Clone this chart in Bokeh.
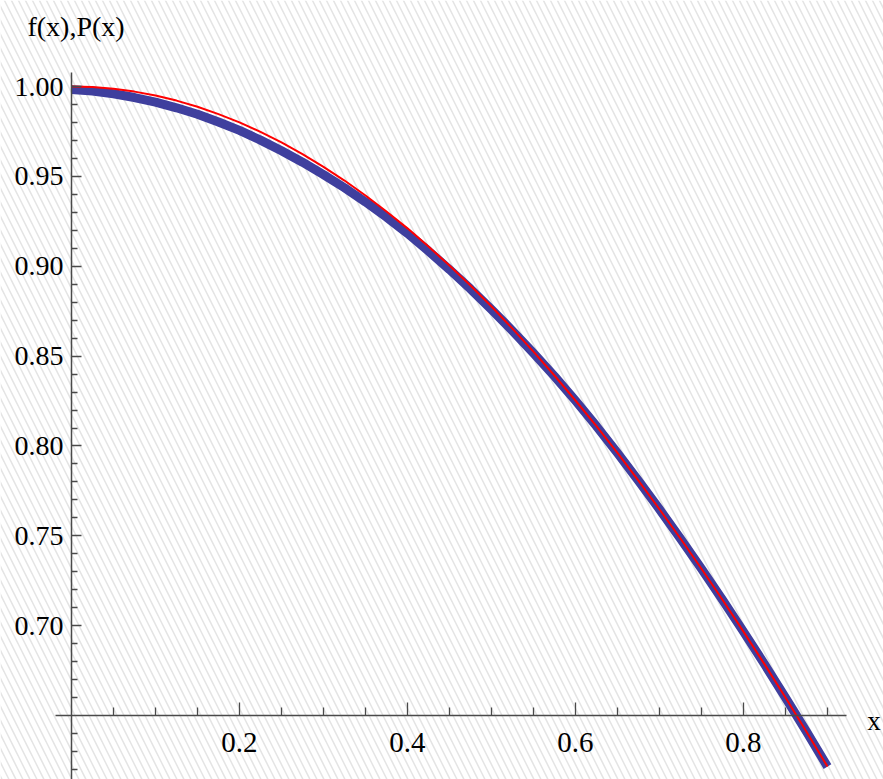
from bokeh.plotting import figure
from bokeh.models import (Range1d, FixedTicker, BoxAnnotation, Label,
                          ColumnDataSource, NumeralTickFormatter)
from bokeh.embed import file_html
from bokeh.resources import INLINE

# values
x_vals = [0.000, 0.025, 0.050, 0.075, 0.100, 0.125, 0.150, 0.175, 0.200, 0.225,
          0.250, 0.275, 0.300, 0.325, 0.350, 0.375, 0.400, 0.425, 0.450, 0.475,
          0.500, 0.525, 0.550, 0.575, 0.600, 0.625, 0.650, 0.675, 0.700, 0.725,
          0.750, 0.775, 0.800, 0.825, 0.850, 0.875, 0.900]
f_vals = [1.0000, 0.9997, 0.9988, 0.9972, 0.9950, 0.9922, 0.9888, 0.9847, 0.9801, 0.9748,
          0.9689, 0.9624, 0.9553, 0.9477, 0.9394, 0.9305, 0.9211, 0.9110, 0.9004, 0.8893,
          0.8776, 0.8653, 0.8525, 0.8392, 0.8253, 0.8110, 0.7961, 0.7807, 0.7648, 0.7485,
          0.7317, 0.7144, 0.6967, 0.6786, 0.6600, 0.6410, 0.6216]
p_vals = [0.9983, 0.9975, 0.9960, 0.9939, 0.9913, 0.9882, 0.9846, 0.9803, 0.9756, 0.9702,
          0.9643, 0.9579, 0.9510, 0.9437, 0.9358, 0.9273, 0.9183, 0.9085, 0.8982, 0.8874,
          0.8760, 0.8641, 0.8517, 0.8388, 0.8252, 0.8110, 0.7961, 0.7807, 0.7648, 0.7485,
          0.7317, 0.7144, 0.6967, 0.6786, 0.6600, 0.6410, 0.6216]

x_major = [0.2, 0.4, 0.6, 0.8]
x_minor = [0.05, 0.10, 0.15, 0.25, 0.30, 0.35, 0.45, 0.50, 0.55, 0.65, 0.70, 0.75, 0.85, 0.90]
y_major = [0.70, 0.75, 0.80, 0.85, 0.90, 0.95, 1.00]
y_minor = [0.62, 0.63, 0.64, 0.66, 0.67, 0.68, 0.69, 0.71, 0.72, 0.73, 0.74,
           0.76, 0.77, 0.78, 0.79, 0.81, 0.82, 0.83, 0.84, 0.86, 0.87, 0.88, 0.89,
           0.91, 0.92, 0.93, 0.94, 0.96, 0.97, 0.98, 0.99]

x_name = "x"
y_name = "f(x),P(x)"

X0, X1 = -0.0845, 0.9667
Y0, Y1 = 0.6144, 1.0479

FONT = "Liberation Serif"
AXC = "#4a4a4a"

p = figure(width=883, height=779, output_backend="svg", toolbar_location=None,
           x_range=Range1d(X0, X1), y_range=Range1d(Y0, Y1),
           min_border=0, min_border_left=0, min_border_right=0,
           min_border_top=0, min_border_bottom=0)
p.outline_line_color = None
p.grid.visible = False
p.background_fill_color = "white"
p.border_fill_color = "white"

bg = BoxAnnotation(left=X0, right=X1, bottom=Y0, top=Y1, level="underlay",
                   fill_color="white", fill_alpha=1.0, line_color=None,
                   hatch_pattern="\\", hatch_color="#e4e4e4", hatch_scale=14,
                   hatch_weight=1.5, hatch_alpha=1.0)
p.add_layout(bg)

# axes crossing at (0, 0.65)
xa = p.xaxis[0]
xa.fixed_location = 0.65
xa.bounds = (-0.019, 0.9226)
xa.ticker = FixedTicker(ticks=x_major, minor_ticks=x_minor)
xa.formatter = NumeralTickFormatter(format="0.0")
xa.axis_line_color = AXC
xa.axis_line_width = 1.5
xa.major_tick_line_color = AXC
xa.minor_tick_line_color = AXC
xa.major_tick_line_width = 1.3
xa.minor_tick_line_width = 1.3
xa.major_tick_in = 13
xa.major_tick_out = 0
xa.minor_tick_in = 8
xa.minor_tick_out = 0
xa.major_label_standoff = 17
xa.major_label_text_font = FONT
xa.major_label_text_font_size = "29px"
xa.major_label_text_color = "black"

ya = p.yaxis[0]
ya.fixed_location = 0.0
ya.bounds = (0.60, 1.0078)
ya.ticker = FixedTicker(ticks=y_major, minor_ticks=y_minor)
ya.formatter = NumeralTickFormatter(format="0.00")
ya.axis_line_color = AXC
ya.axis_line_width = 1.5
ya.major_tick_line_color = AXC
ya.minor_tick_line_color = AXC
ya.major_tick_line_width = 1.3
ya.minor_tick_line_width = 1.3
ya.major_tick_in = 10
ya.major_tick_out = 0
ya.minor_tick_in = 6
ya.minor_tick_out = 0
ya.major_label_standoff = 8
ya.major_label_text_font = FONT
ya.major_label_text_font_size = "28px"
ya.major_label_text_color = "black"

src = ColumnDataSource(dict(x=x_vals, f=f_vals, p=p_vals))
p.line("x", "p", source=src, line_color="#3f3f9e", line_width=9,
       line_join="round")
p.line("x", "f", source=src, line_color="#ff0000", line_width=2,
       line_join="round")

p.add_layout(Label(x=-0.0524, y=1.0334, text=y_name, text_font=FONT,
                   text_font_size="28px", text_color="black",
                   text_baseline="middle", text_align="left"))
p.add_layout(Label(x=0.9475, y=0.6467, text=x_name, text_font=FONT,
                   text_font_size="27px", text_color="black",
                   text_baseline="middle", text_align="left"))

open("out.html", "w").write(file_html(p, INLINE))
